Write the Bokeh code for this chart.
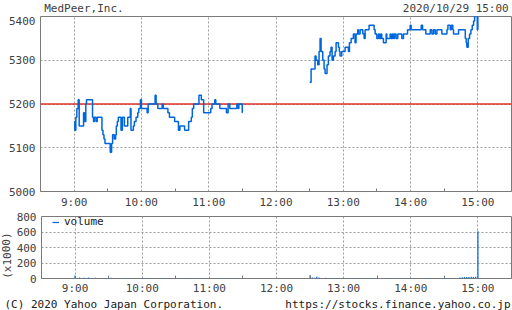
from bokeh.plotting import figure
from bokeh.layouts import column, row
from bokeh.models import Range1d, FixedTicker, Span, Label, Legend, LegendItem
from bokeh.embed import file_html
from bokeh.resources import INLINE

# ---------------- data ----------------
company = "MedPeer,Inc."
timestamp = "2020/10/29 15:00"
copyright_text = "(C) 2020 Yahoo Japan Corporation."
source_url = "https://stocks.finance.yahoo.co.jp"
volume_unit = "(x1000)"
legend_label = "volume"
prev_close = 5200

# x axis: minutes after 9:00
hour_ticks = [0, 60, 120, 180, 240, 300, 360]
hour_labels = ["9:00", "10:00", "11:00", "12:00", "13:00", "14:00", "15:00"]
half_ticks = [-30, 30, 90, 150, 210, 270, 330, 390]
price_ticks = [5000, 5100, 5200, 5300, 5400]
volume_ticks = [0, 200, 400, 600, 800]

am_minutes = [0, 0.6, 1.5, 2.4, 3.6, 4.5, 8.4, 9.3, 10.4, 11, 16.4, 17.3, 18.2, 19.7, 20.6,
              24.8, 25.7, 26.6, 27.5, 32.2, 33.4, 34.3, 35.8, 37, 37.6, 38.5, 39.4, 41.8, 43,
              44.8, 47.8, 50.1, 50.7, 52.8, 53.7, 55.2, 56.7, 57.6, 59.1, 60, 65.1, 66, 72.2,
              73.1, 74.6, 78.5, 79.4, 83.6, 85, 89.6, 93, 94.3, 98.5, 102.1, 104.5, 105.4,
              106.6, 111.3, 113.4, 115.5, 121.8, 123, 125.4, 126.3, 129.9, 135.8, 137.3, 138.8,
              145.1, 146, 146.9, 148.7, 149.9, 150]
am_price = [5160, 5140, 5170, 5190, 5210, 5150, 5180, 5160, 5200, 5210, 5170, 5160, 5170, 5160, 5170,
            5140, 5130, 5120, 5110, 5090, 5110, 5130, 5120, 5130, 5150, 5160, 5170, 5140, 5170,
            5150, 5170, 5190, 5140, 5150, 5160, 5170, 5180, 5190, 5210, 5190, 5180, 5200, 5220,
            5200, 5190, 5200, 5190, 5180, 5170, 5160, 5140, 5150, 5140, 5160, 5170, 5190,
            5200, 5220, 5210, 5180, 5190, 5200, 5210, 5200, 5190, 5180, 5200, 5190,
            5200, 5190, 5200, 5200, 5180, 5180]

pm_minutes = [210, 211.3, 214.8, 215.7, 217.2, 218.4, 219.3, 220.2, 221.7, 222.9, 223.8, 225.5,
              226.7, 228.2, 229.1, 230, 231.2, 232.7, 233.6, 235.7, 236.5, 237.1, 238.6, 241.6,
              244.6, 245.5, 247, 249, 250.5, 251.4, 252.9, 253.5, 255, 257.4, 258.6, 259.5, 263,
              267.5, 268.4, 269.9, 271.4, 272.3, 273.5, 274.3, 275.8, 278.2, 278.8, 281.8, 282.7,
              283.9, 284.8, 285.7, 287.1, 288.6, 292.2, 293.7, 297.3, 299.6, 300.5, 309.5, 310.7,
              313.6, 317.5, 319, 320.5, 322, 323.5, 327.9, 332.4, 333.3, 335.4, 336.3, 337.7,
              338.3, 342.8, 348.8, 349.6, 350.2, 351.4, 352.6, 353.8, 355, 356.2, 357.1, 359.5,
              359.8, 360]
pm_price = [5250, 5280, 5310, 5300, 5290, 5320, 5350, 5320, 5300, 5280, 5270, 5290,
            5310, 5320, 5330, 5300, 5310, 5320, 5340, 5330, 5320, 5310, 5320, 5330,
            5320, 5340, 5350, 5360, 5340, 5360, 5370, 5360, 5370, 5360, 5350, 5370, 5380,
            5370, 5360, 5350, 5360, 5350, 5360, 5350, 5340, 5360, 5350, 5360, 5350,
            5360, 5350, 5360, 5350, 5360, 5350, 5360, 5370, 5380, 5370, 5380, 5370,
            5360, 5370, 5360, 5370, 5360, 5370, 5360, 5370, 5380, 5370, 5380, 5370,
            5360, 5370, 5350, 5340, 5330, 5350, 5360, 5370, 5380, 5390, 5400, 5370,
            5400, 5370]

vol_am_minutes = list(range(0, 152, 2))
vol_am = [38, 8, 12, 6, 10, 5, 14, 7, 6, 9,
          5, 8, 4, 6, 7, 5, 9, 4, 6, 5,
          8, 4, 5, 7, 4, 6, 5, 4, 8, 5,
          6, 4, 5, 7, 4, 5, 6, 4, 5, 4,
          6, 5, 4, 5, 6, 4, 5, 4, 5, 6,
          4, 5, 4, 4, 5, 6, 4, 5, 4, 5,
          4, 6, 4, 5, 4, 4, 5, 4, 6, 4,
          5, 4, 4, 5, 4, 6]
vol_pm_minutes = list(range(210, 362, 2))
vol_pm = [42, 14, 10, 22, 12, 8, 6, 10, 5, 7,
          6, 5, 8, 4, 6, 5, 7, 4, 5, 6,
          4, 5, 8, 4, 5, 4, 6, 4, 5, 4,
          6, 4, 5, 4, 5, 6, 4, 5, 4, 5,
          4, 6, 4, 5, 4, 5, 4, 6, 4, 5,
          4, 5, 6, 4, 5, 4, 5, 8, 6, 5,
          6, 5, 7, 6, 8, 6, 7, 12, 15, 18,
          20, 18, 22, 20, 24, 610]
vol_minutes = vol_am_minutes + vol_pm_minutes
vol_values = vol_am + vol_pm

# ---------------- style ----------------
FONT = "DejaVu Sans Mono"
FS = "11px"
TXT = "#404040"
DARK = "#202020"
FRAME = "#7a7a7a"
GRID = "#9a9a9a"
BLUE = "#0066dd"
RED = "#e0302a"
XR = Range1d(-30, 390)
overrides = {t: l for t, l in zip(hour_ticks, hour_labels)}


def style_common(p):
    p.outline_line_color = FRAME
    p.outline_line_width = 1
    p.background_fill_color = "white"
    p.border_fill_color = "white"
    p.xgrid.ticker = FixedTicker(ticks=hour_ticks)
    p.xgrid.grid_line_color = GRID
    p.xgrid.grid_line_dash = "2 2"
    p.ygrid.grid_line_color = GRID
    p.ygrid.grid_line_dash = "2 2"
    xa = p.xaxis[0]
    xa.ticker = FixedTicker(ticks=hour_ticks, minor_ticks=half_ticks)
    xa.major_label_overrides = overrides
    ya = p.yaxis[0]
    for ax in (xa, ya):
        ax.axis_line_color = None
        ax.major_tick_in = 0
        ax.major_tick_out = 0
        ax.minor_tick_in = 0
        ax.minor_tick_out = 0
        ax.major_label_text_font = FONT
        ax.major_label_text_font_size = FS
        ax.major_label_text_color = TXT
    xa.major_label_standoff = 4
    ya.major_label_standoff = 5
    xa.minor_tick_in = 3
    xa.minor_tick_line_color = FRAME


def text_strip(width, height, top=0, bottom=0):
    s = figure(width=width, height=height, x_range=Range1d(0, width),
               y_range=Range1d(0, height - top - bottom),
               output_backend="svg", toolbar_location=None, x_axis_type=None, y_axis_type=None,
               min_border=0, min_border_top=top, min_border_bottom=bottom,
               outline_line_color=None)
    s.grid.visible = False
    return s


def strip_label(s, x, y, text, align="left", color=TXT, angle=0.0):
    s.add_layout(Label(x=x, y=y, text=text, angle=angle, text_font=FONT, text_font_size=FS,
                       text_color=color, text_baseline="middle", text_align=align))


# ---------------- header ----------------
head = text_strip(512, 16)
strip_label(head, 4, 8, company)
strip_label(head, 509, 8, timestamp, align="right")

# ---------------- price panel ----------------
p1 = figure(width=512, height=195, x_range=XR, y_range=Range1d(5000, 5400),
            output_backend="svg", toolbar_location=None,
            min_border_left=40, min_border_right=1, min_border_top=0, min_border_bottom=20)
style_common(p1)
p1.yaxis[0].ticker = FixedTicker(ticks=price_ticks)
p1.ygrid.ticker = FixedTicker(ticks=price_ticks)
p1.add_layout(Span(location=prev_close, dimension="width", line_color=RED,
                   line_width=1.5, level="underlay"))
p1.step(x=am_minutes, y=am_price, mode="after", line_color=BLUE, line_width=1.5)
p1.step(x=pm_minutes, y=pm_price, mode="after", line_color=BLUE, line_width=1.5)

# ---------------- volume panel ----------------
p2 = figure(width=499, height=86, x_range=XR, y_range=Range1d(0, 800),
            output_backend="svg", toolbar_location=None,
            min_border_left=27, min_border_right=1, min_border_top=5, min_border_bottom=16)
style_common(p2)
p2.xaxis[0].major_label_standoff = 3
p2.yaxis[0].ticker = FixedTicker(ticks=volume_ticks)
p2.ygrid.ticker = FixedTicker(ticks=volume_ticks)
r_vol = p2.segment(x0=vol_minutes, y0=0, x1=vol_minutes, y1=vol_values,
                   line_color=BLUE, line_width=1.2)
leg = Legend(items=[LegendItem(label=legend_label, renderers=[r_vol])], location=(11, 50),
             border_line_color=None, background_fill_alpha=0, padding=0, margin=0,
             glyph_width=7, glyph_height=12, label_height=12, label_standoff=5,
             label_text_font=FONT, label_text_font_size=FS, label_text_color=DARK)
p2.add_layout(leg, "center")

# strip with the same top/bottom borders as the volume panel: its frame spans the volume frame
unit_strip = text_strip(13, 86, top=5, bottom=16)
strip_label(unit_strip, 6.5, 24, volume_unit, align="center", angle=1.5708)

# ---------------- footer ----------------
foot = text_strip(512, 13)
strip_label(foot, 4, 6.5, copyright_text, color=DARK)
strip_label(foot, 510, 6.5, source_url, align="right", color=DARK)

layout = column(head, p1, row(unit_strip, p2, spacing=0), row(foot, spacing=0), spacing=0)
open("out.html", "w").write(file_html(layout, INLINE))
